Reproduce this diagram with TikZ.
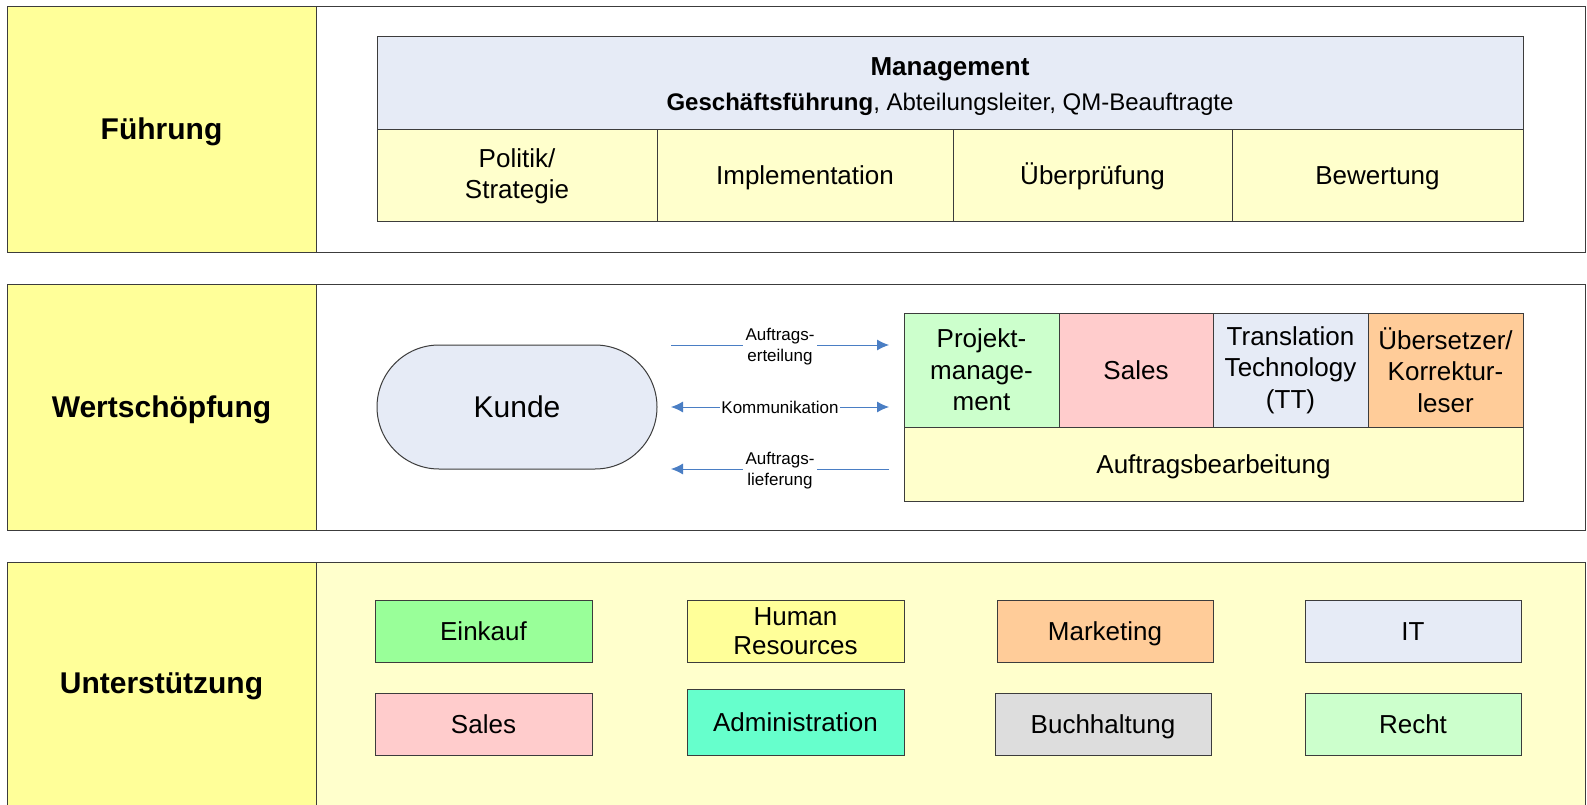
\documentclass[tikz,border=0pt]{standalone}
\usepackage{fontspec}
\setmainfont{Liberation Sans}
\usetikzlibrary{arrows.meta}

\definecolor{labelyellow}{HTML}{FFFF99}
\definecolor{paleyellow}{HTML}{FFFFCC}
\definecolor{paleblue}{HTML}{E6EBF6}
\definecolor{palegreen}{HTML}{CCFFCC}
\definecolor{palepink}{HTML}{FFCCCC}
\definecolor{paleorange}{HTML}{FFCC99}
\definecolor{brightgreen}{HTML}{99FF99}
\definecolor{aqua}{HTML}{66FFCC}
\definecolor{lightgrey}{HTML}{DDDDDD}
\definecolor{edge}{HTML}{3C3C3C}
\definecolor{arrowblue}{HTML}{4A7EC4}

\tikzset{
  box/.style={draw=edge, line width=1pt, inner sep=0pt, outer sep=0pt,
    anchor=north west, align=center},
  txt/.style={font=\fontsize{26}{31.4}\selectfont},
  % single text lines are centred on the font's ascent and descent
  oneline/.style={text height=23.5pt, text depth=5.5pt},
  bigline/.style={text height=27.2pt, text depth=6.4pt},
  rowlabel/.style={box, bigline, fill=labelyellow, font=\fontsize{30}{36}\selectfont\bfseries},
  flow/.style={draw=arrowblue, line width=0.9pt, -{Latex[length=12pt,width=11pt]}},
  flowboth/.style={flow, {Latex[length=12pt,width=11pt]}-{Latex[length=12pt,width=11pt]}},
  flowlabel/.style={fill=white, inner sep=3pt, align=center,
    font=\fontsize{17}{21}\selectfont},
}

\begin{document}
\begin{tikzpicture}[x=1pt,y=-1pt]
\useasboundingbox (0,0) rectangle (1587,805);
\clip (0,0) rectangle (1587,805);

% ---------- row 1: Führung ----------
\node[rowlabel, minimum width=309pt, minimum height=245pt] (fuehrung) at (7,7) {Führung};
\node[box, fill=white, minimum width=1269pt, minimum height=245pt] (fuehrungbody) at (316,7) {};

\node[box, fill=paleblue, minimum width=1146pt, minimum height=93pt,
      font=\fontsize{24}{35}\selectfont] (management) at (377,37)
  {{\fontsize{26}{35}\selectfont\bfseries\rule{0pt}{25pt}Management}\\
   \textbf{Geschäftsführung}, Abteilungsleiter, QM-Beauftragte};
\node[box, txt, fill=paleyellow, minimum width=280pt, minimum height=92pt] (politik) at (377,130) {Politik/\\Strategie};
\node[box, txt, oneline, fill=paleyellow, minimum width=296pt, minimum height=92pt] (implementation) at (657,130) {Implementation};
\node[box, txt, oneline, fill=paleyellow, minimum width=279pt, minimum height=92pt] (pruefung) at (953,130) {Überprüfung};
\node[box, txt, oneline, fill=paleyellow, minimum width=291pt, minimum height=92pt] (bewertung) at (1232,130) {Bewertung};

% ---------- row 2: Wertschöpfung ----------
\node[rowlabel, minimum width=309pt, minimum height=246pt] (wertschoepfung) at (7,284) {Wertschöpfung};
\node[box, fill=white, minimum width=1269pt, minimum height=246pt] (wertbody) at (316,284) {};

\node[box, bigline, fill=paleblue, minimum width=280pt, minimum height=124pt,
      rounded corners=62pt, font=\fontsize{30}{36}\selectfont] (kunde) at (377,345) {Kunde};

\node[box, txt, fill=palegreen, minimum width=155pt, minimum height=114pt] (pm) at (904,313) {Projekt-\\manage-\\ment};
\node[box, txt, oneline, fill=palepink, minimum width=154pt, minimum height=114pt] (sales2) at (1059,313) {Sales};
\node[box, txt, fill=paleblue, minimum width=155pt, minimum height=114pt] (tt) at (1213,313) {Translation\\Technology\\(TT)};
\node[box, txt, fill=paleorange, minimum width=155pt, minimum height=114pt] (uebersetzer) at (1368,313) {Übersetzer/\\Korrektur-\\leser};
\node[box, txt, oneline, fill=paleyellow, minimum width=619pt, minimum height=74pt] (bearbeitung) at (904,427) {Auftragsbearbeitung};

% flow between customer and processing
\coordinate (ordL) at (671,345);  \coordinate (ordR) at (889,345);
\coordinate (comL) at (671,407);  \coordinate (comR) at (889,407);
\coordinate (delL) at (671,469);  \coordinate (delR) at (889,469);
\draw[flow] (ordL) -- node[flowlabel, yshift=-2pt] (ordlab) {Auftrags-\\erteilung} (ordR);
\draw[flowboth] (comL) -- node[flowlabel, inner sep=1pt] (comlab) {Kommunikation} (comR);
\draw[flow] (delR) -- node[flowlabel, yshift=-2pt] (dellab) {Auftrags-\\lieferung} (delL);

% ---------- row 3: Unterstützung ----------
\node[rowlabel, minimum width=309pt, minimum height=243pt] (unterstuetzung) at (7,562) {Unterstützung};
\node[box, fill=paleyellow, minimum width=1269pt, minimum height=250pt] (unterbody) at (316,562) {};

\node[box, txt, oneline, fill=brightgreen, minimum width=217pt, minimum height=62pt] (einkauf) at (375,600) {Einkauf};
\node[box, fill=labelyellow, minimum width=217pt, minimum height=62pt,
      font=\fontsize{26}{29.5}\selectfont] (hr) at (687,600) {Human\\Resources};
\node[box, txt, oneline, fill=paleorange, minimum width=216pt, minimum height=62pt] (marketing) at (997,600) {Marketing};
\node[box, txt, oneline, fill=paleblue, minimum width=216pt, minimum height=62pt] (it) at (1305,600) {IT};

\node[box, txt, oneline, fill=palepink, minimum width=217pt, minimum height=62pt] (sales3) at (375,693) {Sales};
\node[box, txt, oneline, fill=aqua, minimum width=217pt, minimum height=66pt] (administration) at (687,689) {Administration};
\node[box, txt, oneline, fill=lightgrey, minimum width=216pt, minimum height=62pt] (buchhaltung) at (995,693) {Buchhaltung};
\node[box, txt, oneline, fill=palegreen, minimum width=216pt, minimum height=62pt] (recht) at (1305,693) {Recht};
\end{tikzpicture}
\end{document}
